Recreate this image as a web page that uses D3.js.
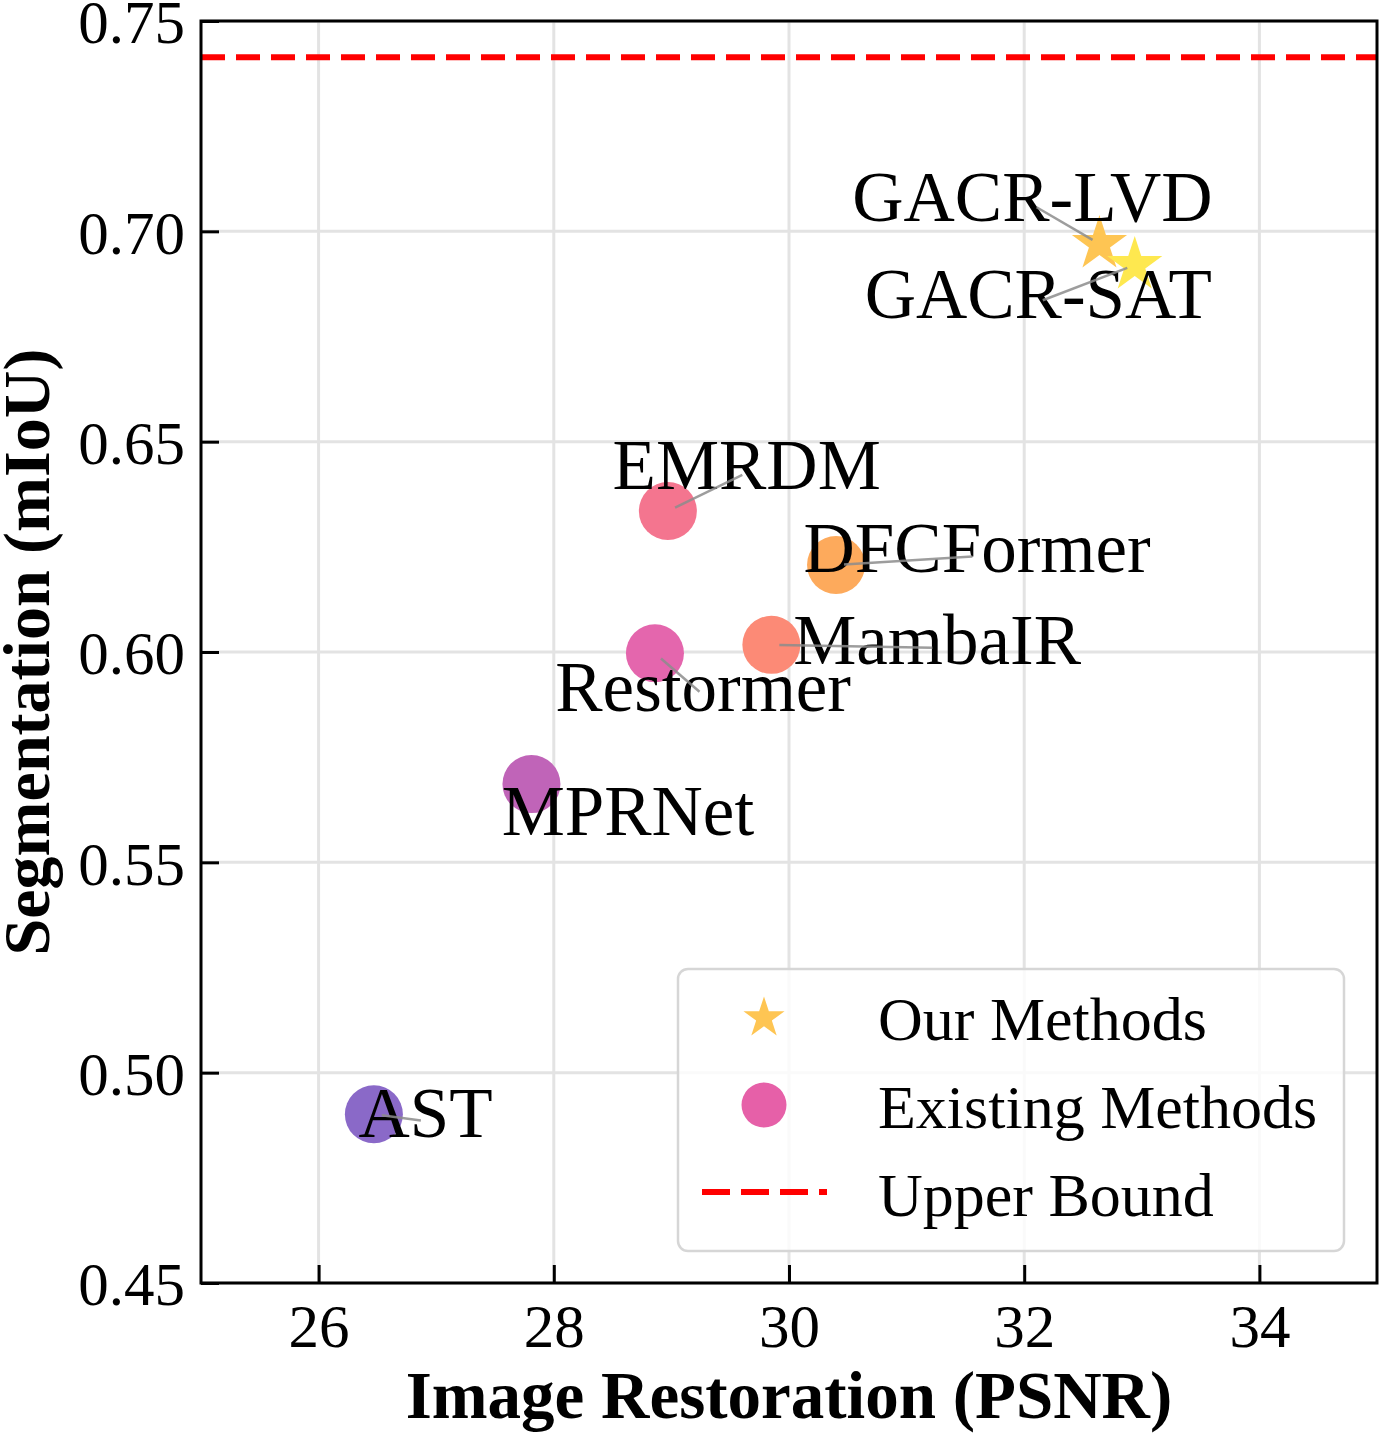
<!DOCTYPE html>
<html>
<head>
<meta charset="utf-8">
<script src="https://cdn.jsdelivr.net/npm/d3@7"></script>
<style>
  body { margin: 0; background: white; }
  text { font-family: "Liberation Serif", "Times New Roman", serif; fill: #000; }
</style>
</head>
<body>
<div id="chart"></div>
<script>
// data
const methods   = ['GACR-LVD', 'GACR-SAT', 'EMRDM', 'DFCFormer', 'MambaIR', 'Restormer', 'MPRNet', 'AST'];
const groups    = ['ours', 'ours', 'existing', 'existing', 'existing', 'existing', 'existing', 'existing'];
const psnr      = [32.64, 32.94, 28.97, 30.40, 29.85, 28.86, 27.81, 26.47];
const miou      = [0.697, 0.692, 0.6335, 0.6207, 0.6017, 0.5997, 0.5686, 0.4901];
// where the name labels sit (in data units), like annotate xytext
const labelPsnr = [32.07, 32.12, 29.64, 31.60, 31.26, 29.27, 28.63, 26.91];
const labelMiou = [0.7063, 0.6832, 0.6426, 0.6228, 0.6010, 0.5898, 0.5603, 0.4885];
const hasLeader = [true, true, true, true, true, true, false, true];
const upperBound = 0.7414;
const xTicks = [26, 28, 30, 32, 34];
const yTicks = [0.45, 0.50, 0.55, 0.60, 0.65, 0.70, 0.75];
const legendNames = ['Our Methods', 'Existing Methods', 'Upper Bound'];

const palette = ['#fec553', '#fee84f', '#f4758f', '#fdaa5c', '#fc8a76', '#e466ad', '#c064b8', '#8a69c8'];

function scatter() {

	function chart(selector) {

		let width = 1379,
			height = 1433,
			margin = { top: 21, right: 2, bottom: 150, left: 201 },
			innerW = width - margin.left - margin.right,
			innerH = height - margin.top - margin.bottom;

		let svg = d3.select(selector)
			.append('svg')
				.attr('width', width)
				.attr('height', height)
				.style('background', 'white');

		let g = svg.append('g')
			.attr('transform', 'translate(' + margin.left + ',' + margin.top + ')');

		let x = d3.scaleLinear().domain([25, 35]).range([0, innerW]);
		let y = d3.scaleLinear().domain([0.45, 0.75]).range([innerH, 0]);

		// grid
		g.selectAll('.vgrid').data(xTicks).enter().append('line')
			.attr('x1', d => x(d)).attr('x2', d => x(d))
			.attr('y1', 0).attr('y2', innerH)
			.attr('stroke', '#e3e3e3').attr('stroke-width', 3);
		g.selectAll('.hgrid').data(yTicks).enter().append('line')
			.attr('x1', 0).attr('x2', innerW)
			.attr('y1', d => y(d)).attr('y2', d => y(d))
			.attr('stroke', '#e3e3e3').attr('stroke-width', 3);

		// upper bound
		g.append('line')
			.attr('x1', 0).attr('x2', innerW)
			.attr('y1', y(upperBound)).attr('y2', y(upperBound))
			.attr('stroke', '#ff0000').attr('stroke-width', 6)
			.attr('stroke-dasharray', '24,11');

		let pts = methods.map((m, i) => ({ name: m, group: groups[i], x: psnr[i], y: miou[i],
			lx: labelPsnr[i], ly: labelMiou[i], color: palette[i], leader: hasLeader[i] }));

		// existing methods as circles
		g.selectAll('.dot')
			.data(pts.filter(d => d.group === 'existing'))
			.enter()
			.append('circle')
			.attr('cx', d => x(d.x))
			.attr('cy', d => y(d.y))
			.attr('r', 29)
			.attr('fill', d => d.color);

		// ours as stars
		let star = d3.symbol().type(d3.symbolStar).size(944);
		g.selectAll('.star')
			.data(pts.filter(d => d.group === 'ours'))
			.enter()
			.append('path')
			.attr('d', star)
			.attr('transform', d => 'translate(' + x(d.x) + ',' + y(d.y) + ')')
			.attr('fill', d => d.color);

		// labels
		g.selectAll('.lbl')
			.data(pts)
			.enter()
			.append('text')
			.attr('x', d => x(d.lx))
			.attr('y', d => y(d.ly) + 16)
			.attr('text-anchor', 'middle')
			.style('font-size', '71px')
			.text(d => d.name);

		// leader lines from point to label
		g.selectAll('.leader')
			.data(pts.filter(d => d.leader))
			.enter()
			.append('line')
			.each(function(d) {
				let x0 = x(d.x), y0 = y(d.y), x1 = x(d.lx), y1 = y(d.ly);
				let len = Math.hypot(x1 - x0, y1 - y0);
				let s = Math.min(8, len / 2) / len;
				d3.select(this)
					.attr('x1', x0 + (x1 - x0) * s).attr('y1', y0 + (y1 - y0) * s)
					.attr('x2', x1 - (x1 - x0) * s * 0.6).attr('y2', y1 - (y1 - y0) * s * 0.6);
			})
			.attr('stroke', '#8c8c8c')
			.attr('stroke-opacity', 0.85)
			.attr('stroke-width', 2.5);

		// axes
		let xAxis = d3.axisBottom(x).tickValues(xTicks).tickSize(-18).tickPadding(20).tickFormat(d3.format('d'));
		let yAxis = d3.axisLeft(y).tickValues(yTicks).tickSize(-18).tickPadding(16).tickFormat(d3.format('.2f'));

		let xg = g.append('g').attr('transform', 'translate(0,' + innerH + ')').call(xAxis);
		let yg = g.append('g').call(yAxis);
		[xg, yg].forEach(a => {
			a.select('.domain').remove();
			a.selectAll('.tick line').attr('stroke', '#000').attr('stroke-width', 3);
			a.selectAll('.tick text')
				.style('font-family', '"Liberation Serif", "Times New Roman", serif')
				.style('font-size', '61px')
				.attr('fill', '#000');
		});
		xg.selectAll('.tick text').attr('dy', '0.72em');
		yg.selectAll('.tick text').attr('dy', '0.36em');

		// frame
		g.append('rect')
			.attr('x', 0).attr('y', 0)
			.attr('width', innerW).attr('height', innerH)
			.attr('fill', 'none')
			.attr('stroke', '#000')
			.attr('stroke-width', 3);

		// axis titles
		svg.append('text')
			.attr('x', margin.left + innerW / 2)
			.attr('y', 1418)
			.attr('text-anchor', 'middle')
			.style('font-size', '67px')
			.style('font-weight', 'bold')
			.text('Image Restoration (PSNR)');

		svg.append('text')
			.attr('transform', 'translate(49,' + (margin.top + innerH / 2) + ') rotate(-90)')
			.attr('text-anchor', 'middle')
			.style('font-size', '66px')
			.style('font-weight', 'bold')
			.text('Segmentation (mIoU)');

		// legend
		let lg = svg.append('g').attr('transform', 'translate(678,969)');
		lg.append('rect')
			.attr('x', 0).attr('y', 0)
			.attr('width', 666).attr('height', 282)
			.attr('rx', 10).attr('ry', 10)
			.attr('fill', 'white').attr('fill-opacity', 0.8)
			.attr('stroke', '#d6d6d6').attr('stroke-width', 2.5);

		lg.append('path')
			.attr('d', d3.symbol().type(d3.symbolStar).size(524))
			.attr('transform', 'translate(86,49)')
			.attr('fill', palette[0]);
		lg.append('circle')
			.attr('cx', 86).attr('cy', 136).attr('r', 22.5)
			.attr('fill', '#e660a8');
		lg.append('line')
			.attr('x1', 24).attr('x2', 149)
			.attr('y1', 223).attr('y2', 223)
			.attr('stroke', '#ff0000').attr('stroke-width', 6)
			.attr('stroke-dasharray', '28,11');

		lg.selectAll('.ltext')
			.data(legendNames)
			.enter()
			.append('text')
			.attr('x', 200)
			.attr('y', (d, i) => 71 + i * 88)
			.style('font-size', '62px')
			.text(d => d);

		return chart;
	}
	return chart;
}

scatter()('#chart');
</script>
</body>
</html>
